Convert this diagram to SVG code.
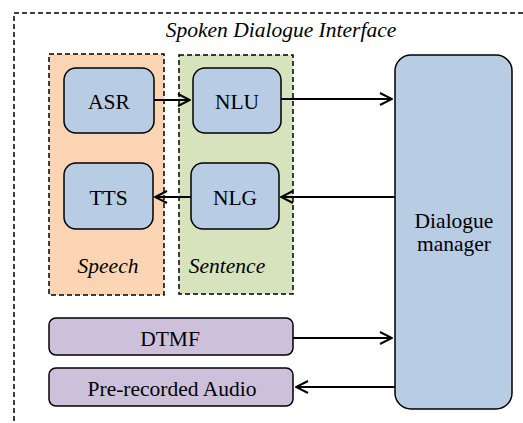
<svg xmlns="http://www.w3.org/2000/svg" width="523" height="423" viewBox="0 0 523 423">
<style>
text{font-family:'Liberation Serif','Times New Roman',serif;font-size:21.5px;fill:#000;text-anchor:middle}
.it{font-style:italic}
.grp{stroke:#000;stroke-width:1.5;stroke-dasharray:5,3}
.node{fill:#B8CCE4;stroke:#000;stroke-width:1.5}
.pur{fill:#CCC0DA;stroke:#000;stroke-width:1.5}
.conn line{stroke:#000;stroke-width:2;marker-end:url(#ah)}
</style>
<defs>
<marker id="ah" viewBox="0 0 14 14" refX="13" refY="7" markerWidth="14" markerHeight="14" markerUnits="userSpaceOnUse" orient="auto">
<path d="M1,1 L13,7 L1,13" fill="none" stroke="#000" stroke-width="2"/>
</marker>
</defs>
<rect width="523" height="423" fill="#fff"/>
<g id="interface">
<rect x="14" y="13" width="530" height="430" fill="none" class="grp" stroke-dasharray="6,4"/>
<text x="281" y="37" class="it">Spoken Dialogue Interface</text>
</g>
<g id="speech">
<rect x="49" y="54" width="115" height="241" fill="#FBD4B4" class="grp"/>
<text x="108" y="273" class="it">Speech</text>
</g>
<g id="sentence">
<rect x="179" y="55" width="114" height="239" fill="#D6E3BC" class="grp"/>
<text x="227" y="273" class="it">Sentence</text>
</g>
<g id="asr"><rect x="64" y="68" width="90" height="65" rx="12" class="node"/><text x="109" y="109">ASR</text></g>
<g id="tts"><rect x="64" y="163" width="89" height="66" rx="12" class="node"/><text x="108.5" y="205">TTS</text></g>
<g id="nlu"><rect x="193" y="68" width="88" height="65" rx="12" class="node"/><text x="237" y="109">NLU</text></g>
<g id="nlg"><rect x="191" y="163" width="88" height="66" rx="12" class="node"/><text x="235" y="205">NLG</text></g>
<g id="dm"><rect x="395" y="55" width="117" height="354" rx="16" class="node"/><text x="454" y="228">Dialogue</text><text x="454" y="251">manager</text></g>
<g id="dtmf"><rect x="49" y="318" width="244" height="37" rx="7" class="pur"/><text x="170" y="346">DTMF</text></g>
<g id="audio"><rect x="49" y="368" width="244" height="38" rx="7" class="pur"/><text x="172" y="396">Pre-recorded Audio</text></g>
<g class="conn" id="connectors">
<line x1="154" y1="100" x2="190" y2="100"/>
<line x1="281" y1="99" x2="392" y2="99"/>
<line x1="395" y1="197" x2="281" y2="197"/>
<line x1="191" y1="197" x2="155" y2="197"/>
<line x1="293" y1="338" x2="392" y2="338"/>
<line x1="395" y1="387" x2="296" y2="387"/>
</g>
</svg>
